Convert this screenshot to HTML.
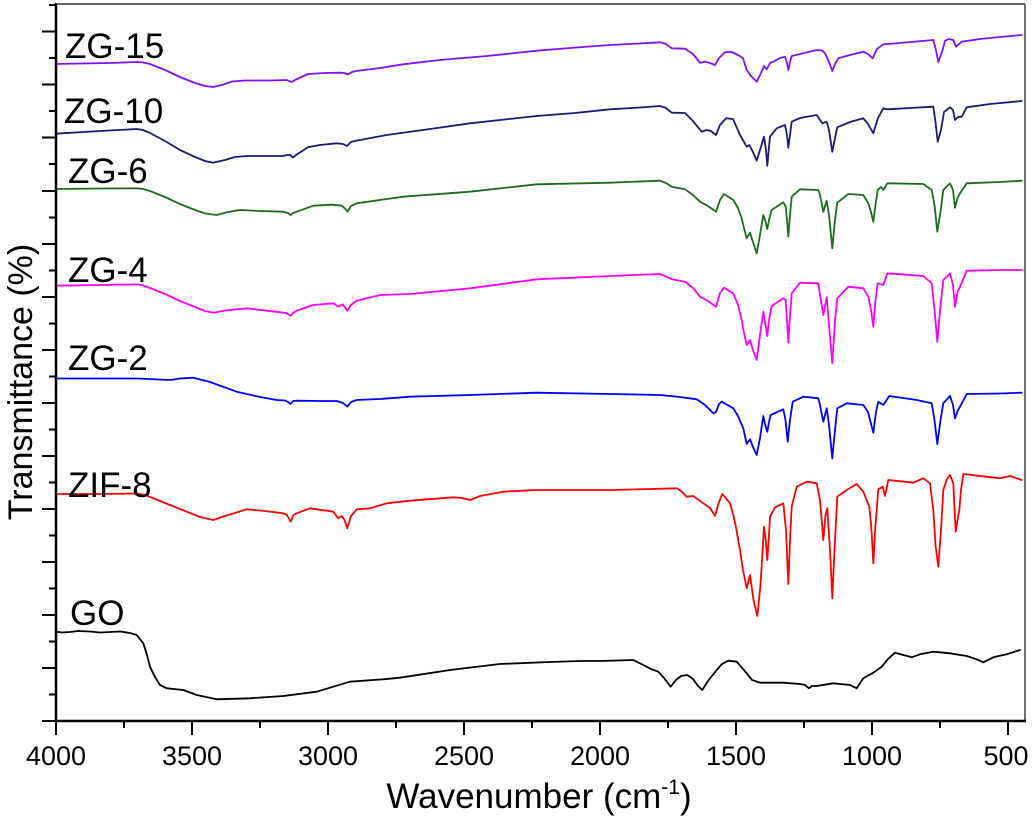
<!DOCTYPE html>
<html><head><meta charset="utf-8"><style>
html,body{margin:0;padding:0;background:#fff;}
svg{display:block;}
text{font-family:"Liberation Sans",Arial,sans-serif;fill:#000;}
</style></head><body>
<svg width="1033" height="819" viewBox="0 0 1033 819" xmlns="http://www.w3.org/2000/svg">
<rect width="1033" height="819" fill="#fff"/>
<g fill="none" stroke-width="1.8" stroke-linejoin="round" stroke-linecap="round">
<polyline stroke="#8010ff" points="56,64 80,63.5 110,63 137,62 143,62.5 150,64 165,70 180,77 195,83 205,86 213,87 222,85 232,81.5 245,80.5 270,80.5 287,80 290,81.5 292,82 295,80 308,74 325,73 340,72.7 344,73 348,74.5 352,72 356,71 380,68 403,64.3 440,60 487,56 537,50.7 570,48 610,45 630,44 660,42.3 666,44 671.7,48.3 685,48.7 693,54 700,62.7 705,61.7 710,63 715,65 719,58 725,52.3 731.7,52 738,55 743,58.3 746.7,70 751,76 756.7,81.7 761,73 764,66 766.7,69.3 770,63 773.3,61.7 780,58 785,56.7 787,63 788.3,70 790,62 791.7,56 800,54 816.7,50 822,50.5 825,53.3 829,62 832.3,71 835,64 838.3,58.3 850,55 863.3,51.7 868,54 872.7,58.3 877,49 883.3,44.3 900,43 933.3,40 935.5,48 938.3,61.7 942,52 945,41 948.3,39 953.3,40 956,46.7 958,45 961.7,41.7 980,39 1000,37 1021.7,35"/>
<polyline stroke="#1a1a78" points="56,133.7 100,131 137,129 143,130 150,133 165,141 180,150 195,157 205,161 213,162.7 225,160 235,157 246.7,156 270,156 283,156 287,155 290,155 293,157.5 296,155 308,147.3 320,145 336.7,143.3 343,144 347,146 351,142 356,140.7 386.7,135 430,129 470,123.3 536.7,116 575,113 610,109.3 640,107.5 660,106 666,108 671.7,112.7 685,113 692,120 701.7,131.7 706.7,130 711,131 716,135 720,125 726,118.3 733,119 740,135 744,142 746.7,146.7 749.3,145 753,152 756.7,160.7 760,150 764,136.7 766,150 767.3,165.7 768.7,150 770,136.7 776.7,128.3 785,125 787,135 788.3,147.7 790,135 791.7,121.7 800,118 816.7,115 822.3,123.3 826.7,121.7 829,130 832.3,151.7 835,138 837.3,127.3 850,122 863.3,118.3 868,124 873.3,133.3 878,118 883.3,108.3 886.7,109.3 910,108 933.3,106.7 935.5,122 937.7,141.7 941,130 944,112 950,107.3 953,110 955,120 958,117 961.7,116.7 966.7,107.3 990,104 1021.7,101"/>
<polyline stroke="#1d6b1d" points="56,189 100,188.5 137,188.3 143,189 150,191 165,197 180,204 195,210 205,213.5 216.7,215 228,212 240,210 260,211 283.3,211.7 288,213 290.7,215 293,213 296.7,211.7 313.3,205.7 331.7,204.7 341.7,205.7 344.5,208 347.7,211.7 351,206 356.7,203.3 403.3,196.7 470,191.7 536.7,184.3 610,182.7 660,180.7 666,183 671.7,186.7 685,189.3 693,195 700,201.7 708,206 716,211.7 720,200 724,194 733.3,200 738,208 741.7,218.3 744,228 746.7,238.3 750,232.7 753,242 756.7,253.3 760,235 763.3,215 765,220 767.3,229 769,220 771.7,210 783.3,202.3 785.7,206.7 787,220 788.3,236.7 790,215 791.7,196.7 800,189.3 818.3,190 820,195 823.3,211.7 826.7,200.7 829,215 832.3,248.3 835,220 837.3,202.7 848.3,194 863.3,195 868.3,203.3 871,212 873.3,221.7 875.5,205 877.7,190 881,187 883.3,190 887.3,183.3 923.3,184 931.7,190 934.5,205 937.3,231.7 940.5,212 943.3,190 950,183.3 953,190 955,207.7 957.5,198 960,193.3 966.7,183.3 1000,182 1021.7,180.7"/>
<polyline stroke="#ff00ff" points="56,285.7 100,285 137,284.3 143,285.5 150,288 165,294 180,301 195,307 205,311 213.3,312.7 225,310.5 246.7,308.3 265,310.5 280,312.3 286,313 290.7,315.7 293,313 296.7,310.7 313.3,305 333.3,303.3 338.3,306.7 342.7,304.3 347.3,310.7 351,305 356.7,300.7 380,295 410,294 470,288.3 536.7,279.3 610,276 660,274 666,276.5 671.7,279.3 685,281.7 693,288 700,296.7 708,301 716,306.7 720,293 724,287.7 733.3,293.3 738,305 741.7,320 744,333 746.7,345 750,340 753,350 756.7,360 760,335 763.3,311.7 765,322 767.3,336 769,320 771.7,306 783.3,298.3 785.7,300 787,320 788.3,342.7 790,315 791.7,293.3 800,282.7 818.3,283.3 820,295 823.3,315 826.7,297.3 829,325 832.3,363.3 835,320 837.3,298.3 848.3,286.7 863.3,288.3 868.3,296.7 871,310 873.3,326.7 875.5,300 877.7,283.3 883.3,285 887.3,273.3 923.3,276 931.7,283.3 934.5,310 937.3,341.7 940.5,305 943.3,280 950,273.3 953,285 955,306.7 957.5,292 960,286.7 966.7,270.7 1000,270 1021.7,270"/>
<polyline stroke="#0000ff" points="56,378.5 100,378.5 137,378.5 170,380 180,378.5 193.3,377.7 210,382 236.7,391.7 260,397 276.7,400 285,400.5 288,402 290.7,404 293,401 296.7,400.7 320,401 336.7,401 343,403 347.3,406.7 351,402 356.7,400 380,399 410,396.7 470,395 536.7,392.7 610,394 660,395 680,397 696.7,399.3 705,405 711,411 713.3,413.3 716,412 719,404 721.7,401.7 733.3,408.3 738,416 743.3,428.3 746.7,444 750,439.3 753,447 756.7,455 760,438 763.3,416 765,424 767.3,431.7 769,422 770.7,415 783.3,409.3 785.5,420 787.7,441.7 790,420 792.7,401.7 803.3,396.7 818.3,398.3 820,405 823.3,421.7 826.7,408.3 829,425 832.3,458.3 835,430 837.3,408.3 846.7,403.3 863.3,405 868,412 873.3,432.7 876,412 878.3,401.7 883.3,405 889.3,396 916.7,400 931.7,403.3 934.5,420 937.3,444 940.5,420 943.3,403.3 950,396 953,405 955,418.3 958,410 961,405 966.7,394 1000,393.5 1021.7,392.7"/>
<polyline stroke="#ff0000" points="56,494 100,494 137,493.5 145,495 160,501 170,505 185,511 200,517 213.3,520 225,516 246.7,509.3 265,511 283.3,513.3 287,515 290.7,521.7 293.5,515 296.7,513.3 310,508.3 333.3,511.7 338.3,518.3 341.7,516 344.5,520 347.3,528.3 351,516 356.7,509.3 370,508.3 386.7,503.3 410,500.7 453.3,497.3 462,498 470,500 480,496 503.3,491.7 536.7,490 610,490 650,489 676.7,488.3 681,491 686.7,496.7 693.3,496 703.3,503.3 710,508 715,515.7 719,502 722.3,494 730,503.3 733.3,515 736.5,530 740,550 743,570 746.7,588.3 750,575 753.5,600 757.3,616 760.5,585 764,526.7 765.7,540 767.3,560 769,535 770,516.7 775,507.3 783.3,503.3 786,530 788.3,584 790,540 791.7,506.7 796.7,486.7 806.7,481.7 816.7,483.3 820,500 823.3,540 825.5,515 827.3,508.3 830,550 832.3,598.3 834.5,550 837.3,496.7 846.7,490 856.7,484 863.3,491.7 869.3,506.7 871.5,530 873.3,563.3 875.5,525 878.3,489.3 882.7,486.7 885,496 888.3,480 913.3,482.7 923.3,478.3 930,483.3 933.3,510 935.5,545 938.3,566.7 941,530 943.3,490 947,479 950,475 953.3,483.3 955.7,531.7 957.5,520 959.3,510 961,490 963.3,474 1000,478.3 1010,476 1021.7,480"/>
<polyline stroke="#000000" points="56,631.7 62,632.5 70,632 78,631 90,631.5 100,632.5 110,632 120,631.5 130,633 136.7,635 143.3,643.3 147,655 150,666.7 155,677 160,685 166.7,688.3 183.3,690 196.7,695 216.7,699.3 250,698.3 283.3,696 316.7,691.7 350,681.7 383.3,679.3 400,677.7 450,670 500,664 550,662 580,661 600,661 633.3,660 643.3,665 651.7,669.3 658.3,671.7 664,678 670.7,686.7 676,680 681,676 687.3,675 693,679 698,686 702.3,690 708,681 716.7,670 722,664 728.3,660.7 736.7,661.7 746.7,673.3 752,680 760,682.7 783.3,682.7 800,684 805,685 809,688.3 812,686 816.7,686 833.3,683.3 850,685 856.7,688.3 863.3,678.3 873.3,672.7 881.7,666.7 888,659 895,652.7 903.3,655 911.7,657.3 920,654.3 933.3,651.7 950,653.3 966.7,656 976.7,659.3 983.3,662.3 988,660 993.3,657.3 1006.7,654.3 1020,650"/>
</g>
<line x1="56" y1="4" x2="1025" y2="4" stroke="#000" stroke-width="1.2"/>
<line x1="1025" y1="4" x2="1025" y2="721" stroke="#444" stroke-width="1.5"/>
<line x1="56" y1="3" x2="56" y2="722" stroke="#000" stroke-width="2.5"/>
<line x1="55" y1="721" x2="1026" y2="721" stroke="#000" stroke-width="2.5"/>
<path stroke="#000" stroke-width="2" fill="none" d="M56,721V735 M192,721V735 M328,721V735 M464,721V735 M600,721V735 M736,721V735 M872,721V735 M1008,721V735 M124,721V728 M260,721V728 M396,721V728 M532,721V728 M668,721V728 M804,721V728 M940,721V728"/>
<path stroke="#000" stroke-width="2" fill="none" d="M42,721H56 M42,668H56 M42,615H56 M42,562H56 M42,509H56 M42,456H56 M42,403H56 M42,350H56 M42,297H56 M42,244H56 M42,191H56 M42,137.5H56 M42,84.5H56 M42,31.5H56 M49,694.5H56 M49,641.5H56 M49,588.5H56 M49,535.5H56 M49,482.5H56 M49,429.5H56 M49,376.5H56 M49,323.5H56 M49,270.5H56 M49,217.5H56 M49,164H56 M49,111H56 M49,58H56 M49,5H56"/>
<g font-size="27" text-anchor="middle">
<text x="56" y="765">4000</text>
<text x="192" y="765">3500</text>
<text x="328" y="765">3000</text>
<text x="464" y="765">2500</text>
<text x="600" y="765">2000</text>
<text x="736" y="765">1500</text>
<text x="872" y="765">1000</text>
<text x="1006" y="765">500</text>
</g>
<text x="539" y="808" font-size="35" text-anchor="middle">Wavenumber (cm<tspan font-size="21" dy="-14">-1</tspan><tspan dy="14">)</tspan></text>
<text transform="translate(32,382) rotate(-90)" font-size="34" text-anchor="middle">Transmittance (%)</text>
<g font-size="35">
<text x="65" y="58">ZG-15</text>
<text x="64" y="123">ZG-10</text>
<text x="68" y="183">ZG-6</text>
<text x="68" y="282">ZG-4</text>
<text x="68" y="370">ZG-2</text>
<text x="68" y="497">ZIF-8</text>
<text x="70" y="625">GO</text>
</g>
</svg>
</body></html>
